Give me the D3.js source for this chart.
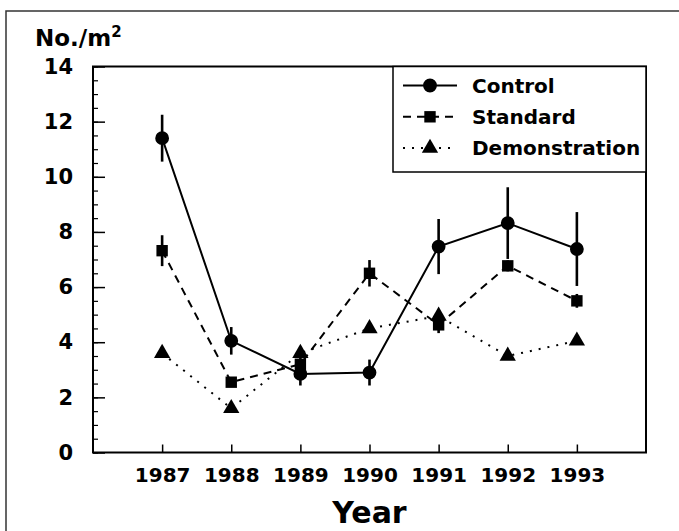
<!DOCTYPE html>
<html>
<head>
<meta charset="utf-8">
<script src="https://cdn.jsdelivr.net/npm/d3@7"></script>
<style>
  body { margin: 0; background: #fff; }
  text { font-family: "DejaVu Sans", sans-serif; font-weight: bold; fill: #000; }
</style>
</head>
<body>
<svg id="chart"></svg>
<script>
// data
const years = [1987, 1988, 1989, 1990, 1991, 1992, 1993];
const control = [11.4, 4.05, 2.85, 2.9, 7.47, 8.32, 7.38];
const controlErr = [0.85, 0.5, 0.42, 0.47, 1.0, 1.3, 1.34];
const standard = [7.32, 2.55, 3.2, 6.5, 4.63, 6.77, 5.5];
const standardErr = [0.56, 0.15, 0.3, 0.48, 0.3, 0.2, 0.25];
const demonstration = [3.6, 1.6, 3.6, 4.5, 4.95, 3.5, 4.05];
const yTicks = [0, 2, 4, 6, 8, 10, 12, 14];
const seriesNames = ['Control', 'Standard', 'Demonstration'];

const config = {
  width: 679,
  height: 531,
  margin: { top: 66.5, left: 93, right: 33, bottom: 78.5 }
};
const width = config.width - config.margin.left - config.margin.right;
const height = config.height - config.margin.top - config.margin.bottom;

const svg = d3.select('#chart')
  .attr('width', config.width)
  .attr('height', config.height);

// outer frame of the figure (runs off the right and bottom)
svg.append('rect')
  .attr('x', 6).attr('y', 11)
  .attr('width', 700).attr('height', 600)
  .attr('fill', 'none')
  .attr('stroke', '#333')
  .attr('stroke-width', 1.5);

const chart = svg.append('g')
  .attr('transform', `translate(${config.margin.left}, ${config.margin.top})`);

const xScale = d3.scaleLinear()
  .domain([1986, 1994])
  .range([0, width]);

const yScale = d3.scaleLinear()
  .domain([0, 14])
  .range([height, 0]);

// minor y ticks every 0.5, pointing inward
const yMinor = d3.axisLeft(yScale)
  .tickValues(d3.range(0, 14.01, 0.5))
  .tickSize(-5)
  .tickFormat('');
chart.append('g').attr('class', 'y-minor').call(yMinor)
  .call(g => g.select('.domain').remove())
  .selectAll('line').attr('stroke', '#000').attr('stroke-width', 1.2);

// major y ticks with labels
const yAxis = d3.axisLeft(yScale)
  .tickValues(yTicks)
  .tickSize(-12)
  .tickPadding(20);
chart.append('g').attr('class', 'y-axis').call(yAxis)
  .call(g => g.select('.domain').remove())
  .call(g => g.selectAll('line').attr('stroke', '#000').attr('stroke-width', 1.5))
  .call(g => g.selectAll('text').style('font-size', '21px').attr('font-family', null));

// x axis, ticks inward
const xAxis = d3.axisBottom(xScale)
  .tickValues(years)
  .tickFormat(d3.format('d'))
  .tickSize(-8)
  .tickPadding(15);
chart.append('g').attr('class', 'x-axis')
  .attr('transform', `translate(0, ${height})`)
  .call(xAxis)
  .call(g => g.select('.domain').remove())
  .call(g => g.selectAll('line').attr('stroke', '#000').attr('stroke-width', 1.5))
  .call(g => g.selectAll('text').style('font-size', '20px').attr('font-family', null));

// plot frame
chart.append('rect')
  .attr('width', width).attr('height', height)
  .attr('fill', 'none')
  .attr('stroke', '#000')
  .attr('stroke-width', 2);

// axis titles
svg.append('text')
  .attr('x', 35).attr('y', 46)
  .style('font-size', '23px')
  .text('No./m')
  .append('tspan')
  .attr('dy', -9)
  .style('font-size', '15px')
  .text('2');

svg.append('text')
  .attr('x', config.margin.left + width / 2)
  .attr('y', 523)
  .attr('text-anchor', 'middle')
  .style('font-size', '30px')
  .text('Year');

const series = [
  { name: seriesNames[0], values: control, err: controlErr, dash: null, shape: d3.symbolCircle, size: 150 },
  { name: seriesNames[1], values: standard, err: standardErr, dash: '8,6', shape: d3.symbolSquare, size: 130 },
  { name: seriesNames[2], values: demonstration, err: null, dash: '2,7', shape: d3.symbolTriangle, size: 115 }
];

const line = d3.line()
  .x(d => xScale(d.year))
  .y(d => yScale(d.value));

series.forEach(s => {
  const pts = years.map((y, i) => ({ year: y, value: s.values[i], err: s.err ? s.err[i] : 0 }));

  chart.append('path')
    .datum(pts)
    .attr('d', line)
    .attr('fill', 'none')
    .attr('stroke', '#000')
    .attr('stroke-width', 2)
    .attr('stroke-dasharray', s.dash);

  if (s.err) {
    chart.selectAll(null)
      .data(pts)
      .join('line')
      .attr('x1', d => xScale(d.year))
      .attr('x2', d => xScale(d.year))
      .attr('y1', d => yScale(d.value + d.err))
      .attr('y2', d => yScale(d.value - d.err))
      .attr('stroke', '#000')
      .attr('stroke-width', 2.6);
  }

  chart.selectAll(null)
    .data(pts)
    .join('path')
    .attr('transform', d => `translate(${xScale(d.year)}, ${yScale(d.value)})`)
    .attr('d', d3.symbol().type(s.shape).size(s.size))
    .attr('fill', '#000');
});

// legend box in the top right of the plot
const legend = chart.append('g')
  .attr('transform', `translate(${width - 253}, 0)`);

legend.append('rect')
  .attr('width', 253).attr('height', 105.5)
  .attr('fill', '#fff')
  .attr('stroke', '#000')
  .attr('stroke-width', 1.5);

series.forEach((s, i) => {
  const row = legend.append('g').attr('transform', `translate(0, ${19 + i * 31.3})`);
  row.append('line')
    .attr('x1', 10).attr('x2', 64)
    .attr('stroke', '#000')
    .attr('stroke-width', 2)
    .attr('stroke-dasharray', s.dash);
  row.append('path')
    .attr('transform', 'translate(37, 0)')
    .attr('d', d3.symbol().type(s.shape).size(s.size))
    .attr('fill', '#000');
  row.append('text')
    .attr('x', 79).attr('dy', '0.36em')
    .style('font-size', '20px')
    .text(s.name);
});
</script>
</body>
</html>
